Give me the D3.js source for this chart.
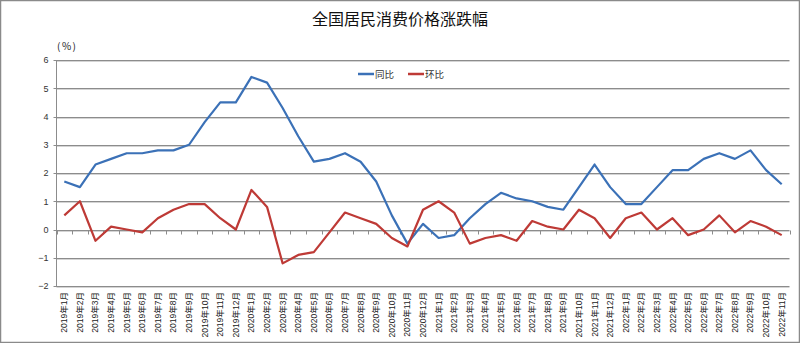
<!DOCTYPE html>
<html><head><meta charset="utf-8">
<script src="https://cdn.jsdelivr.net/npm/d3@7/dist/d3.min.js"></script>
<style>
html,body{margin:0;padding:0;background:#fff;}
svg{display:block;}
</style></head>
<body>
<svg id="chart" width="800" height="343"></svg>
<script>
const categories = [
"2019年1月","2019年2月","2019年3月","2019年4月","2019年5月","2019年6月","2019年7月","2019年8月","2019年9月","2019年10月","2019年11月","2019年12月",
"2020年1月","2020年2月","2020年3月","2020年4月","2020年5月","2020年6月","2020年7月","2020年8月","2020年9月","2020年10月","2020年11月","2020年12月",
"2021年1月","2021年2月","2021年3月","2021年4月","2021年5月","2021年6月","2021年7月","2021年8月","2021年9月","2021年10月","2021年11月","2021年12月",
"2022年1月","2022年2月","2022年3月","2022年4月","2022年5月","2022年6月","2022年7月","2022年8月","2022年9月","2022年10月","2022年11月"];
const yoy = [1.7,1.5,2.3,2.5,2.7,2.7,2.8,2.8,3.0,3.8,4.5,4.5,
             5.4,5.2,4.3,3.3,2.4,2.5,2.7,2.4,1.7,0.5,-0.5,0.2,
             -0.3,-0.2,0.4,0.9,1.3,1.1,1.0,0.8,0.7,1.5,2.3,1.5,
             0.9,0.9,1.5,2.1,2.1,2.5,2.7,2.5,2.8,2.1,1.6];
const mom = [0.5,1.0,-0.4,0.1,0.0,-0.1,0.4,0.7,0.9,0.9,0.4,0.0,
             1.4,0.8,-1.2,-0.9,-0.8,-0.1,0.6,0.4,0.2,-0.3,-0.6,0.7,
             1.0,0.6,-0.5,-0.3,-0.2,-0.4,0.3,0.1,0.0,0.7,0.4,-0.3,
             0.4,0.6,0.0,0.4,-0.2,0.0,0.5,-0.1,0.3,0.1,-0.2];
const seriesNames = ["同比","环比"];
const yTicks = [-2,-1,0,1,2,3,4,5,6];
const title = "全国居民消费价格涨跌幅";
const unitLabel = "(%)";

(function(){
const svg = d3.select("#chart");
const W = 800, H = 343;
const pl = 56.5, pr = 789.5, pt = 60, pb = 286;

svg.append("rect").attr("x",0.5).attr("y",0.5).attr("width",W-1).attr("height",H-1)
  .attr("fill","#fff").attr("stroke","#8a8a8a").attr("stroke-width",1.5);

const x = d3.scaleBand().domain(categories).range([pl, pr]);
const y = d3.scaleLinear().domain([-2,6]).range([pb, pt]);

const grid = svg.append("g");
yTicks.forEach(t => {
  const yy = Math.round(y(t)) + 0.5;
  grid.append("line").attr("x1",pl-3).attr("x2",pr).attr("y1",yy).attr("y2",yy)
    .attr("stroke","#8c8c8c").attr("stroke-width",1);
  grid.append("line").attr("x1",pl).attr("x2",pr).attr("y1",yy+1).attr("y2",yy+1)
    .attr("stroke","#d4d4d4").attr("stroke-width",1);
});
svg.append("line").attr("x1",pl).attr("x2",pl).attr("y1",pt).attr("y2",pb)
  .attr("stroke","#8c8c8c").attr("stroke-width",1);
const yAxis = d3.axisLeft(y).tickValues(yTicks).tickSize(0).tickPadding(8);
const gy = svg.append("g").attr("transform",`translate(${pl},0)`).call(yAxis);
gy.select(".domain").remove();
gy.selectAll("text").attr("font-family","Liberation Sans, Arial, sans-serif")
  .attr("font-size","9px").attr("fill","#333");

const zeroY = Math.round(y(0)) + 0.5;
const boundaries = categories.map(c => x(c)).concat([pr]);
boundaries.forEach(bx => {
  const xx = Math.round(bx) + 0.5;
  svg.append("line").attr("x1",xx).attr("x2",xx).attr("y1",zeroY).attr("y2",zeroY+4)
    .attr("stroke","#8c8c8c").attr("stroke-width",1);
});

const xAxis = d3.axisBottom(x).tickSize(0).tickPadding(0);
const gx = svg.append("g").attr("transform",`translate(0,${pb})`).call(xAxis);
gx.select(".domain").remove();
gx.selectAll("text")
  .attr("font-family","Liberation Sans, Noto Sans CJK SC, sans-serif")
  .attr("font-size","8.5px").attr("fill","#222")
  .attr("transform","rotate(-90)")
  .attr("text-anchor","end")
  .attr("x",-6).attr("y",0).attr("dy","0.35em");

const colors = ["#3B71B7","#BE3A36"];
const line = d3.line().x((d,i)=>x(categories[i]) + x.bandwidth()/2).y(d=>y(d));
[yoy, mom].forEach((s,k) => {
  svg.append("path").datum(s).attr("d",line).attr("fill","none")
    .attr("stroke",colors[k]).attr("stroke-width",2.2).attr("stroke-linejoin","round");
});

svg.append("text").attr("x",400).attr("y",25).attr("text-anchor","middle")
  .attr("font-family","Noto Sans CJK SC, sans-serif").attr("font-size","16px")
  .attr("fill","#111").text(title);

svg.append("text").attr("x",57).attr("y",50)
  .attr("font-family","Noto Sans CJK SC, sans-serif").attr("font-size","10px")
  .attr("letter-spacing","1.5px").attr("fill","#222").text(unitLabel);

const legendX = [358, 408];
seriesNames.forEach((n,k) => {
  svg.append("line").attr("x1",legendX[k]).attr("x2",legendX[k]+16).attr("y1",74).attr("y2",74)
    .attr("stroke",colors[k]).attr("stroke-width",2.5);
  svg.append("text").attr("x",legendX[k]+17).attr("y",77.5)
    .attr("font-family","Noto Sans CJK SC, sans-serif").attr("font-size","9.5px")
    .attr("fill","#333").text(n);
});
})();
</script>
</body></html>
